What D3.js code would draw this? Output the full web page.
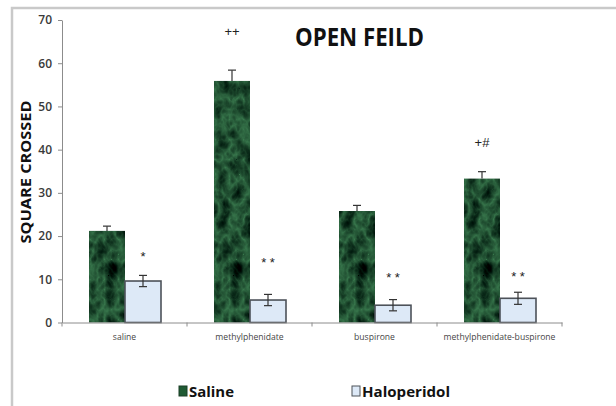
<!DOCTYPE html>
<html>
<head>
<meta charset="utf-8">
<script src="https://cdn.jsdelivr.net/npm/d3@7"></script>
<style>
  body { margin: 0; background: #fff; }
  svg { display: block; }
</style>
</head>
<body>
<svg id="chart" width="616" height="406"></svg>
<script>
// categories and series
const categories = ['saline', 'methylphenidate', 'buspirone', 'methylphenidate-buspirone'];
const series = ['Saline', 'Haloperidol'];
const salineMean = [21.2, 55.9, 25.8, 33.3];
const salineErr = [1.1, 2.5, 1.3, 1.6];
const haloMean = [9.6, 5.2, 4.0, 5.6];
const haloErr = [1.3, 1.3, 1.3, 1.4];
// significance marks: [category, series, label, level on the y scale]
const marks = [
  ['saline', 'Haloperidol', '*', 15.2],
  ['methylphenidate', 'Saline', '++', 67.4],
  ['methylphenidate', 'Haloperidol', '* *', 13.8],
  ['buspirone', 'Haloperidol', '* *', 10.4],
  ['methylphenidate-buspirone', 'Saline', '+#', 41.6],
  ['methylphenidate-buspirone', 'Haloperidol', '* *', 10.7]
];
const yTicks = [0, 10, 20, 30, 40, 50, 60, 70];

const svg = d3.select('#chart');
const plotLeft = 62, plotRight = 562, plotTop = 20, plotBottom = 322.5;

// frame around the whole chart area (runs off the right/bottom edge)
svg.append('rect').attr('x', 12).attr('y', 8).attr('width', 640).attr('height', 420)
  .attr('fill', 'none').attr('stroke', '#c9c9c9').attr('stroke-width', 2.5);

// marble look for the green bars: dark green with lighter veins
const defs = svg.append('defs');
const f = defs.append('filter').attr('id', 'marble').attr('x', 0).attr('y', 0).attr('width', 1).attr('height', 1)
  .attr('color-interpolation-filters', 'sRGB');
f.append('feTurbulence').attr('type', 'turbulence').attr('baseFrequency', '0.07 0.05')
  .attr('numOctaves', 3).attr('seed', 7).attr('result', 'noise');
f.append('feColorMatrix').attr('in', 'noise').attr('type', 'matrix')
  .attr('values', '-0.35 0 0 0 0.22  -0.6 0 0 0 0.47  -0.4 0 0 0 0.3  0 0 0 0 1').attr('result', 'tint');
f.append('feComposite').attr('in', 'tint').attr('in2', 'SourceGraphic').attr('operator', 'in');

const x = d3.scaleBand().domain(categories).range([plotLeft, plotRight]).padding(0);
const xs = d3.scaleBand().domain(series).range([27, 99]).padding(0);
const y = d3.scaleLinear().domain([0, 70]).range([plotBottom, plotTop]);

const rows = categories.map((c, i) => ({
  c,
  bars: [
    { s: 'Saline', v: salineMean[i], e: salineErr[i] },
    { s: 'Haloperidol', v: haloMean[i], e: haloErr[i] }
  ]
}));

// y axis
const yAxis = svg.append('g').attr('transform', `translate(${plotLeft},0)`)
  .call(d3.axisLeft(y).tickValues(yTicks).tickSize(4).tickSizeOuter(0).tickPadding(6));
yAxis.select('.domain').attr('stroke', '#8c8c8c');
yAxis.selectAll('.tick line').attr('stroke', '#8c8c8c');
yAxis.selectAll('.tick text').attr('font-family', 'Open Sans, sans-serif').attr('font-size', 12)
  .attr('font-weight', 600).attr('fill', '#3a3a3a');

// bars
const g = svg.append('g').selectAll('g').data(rows).join('g')
  .attr('transform', d => `translate(${x(d.c)},0)`);

g.selectAll('rect').data(d => d.bars).join('rect')
  .attr('x', d => xs(d.s))
  .attr('y', d => y(d.v))
  .attr('width', xs.bandwidth())
  .attr('height', d => y(0) - y(d.v))
  .attr('fill', d => d.s === 'Saline' ? '#1f5a33' : '#dde9f7')
  .attr('filter', d => d.s === 'Saline' ? 'url(#marble)' : null)
  .attr('stroke', d => d.s === 'Saline' ? null : '#4d5259')
  .attr('stroke-width', 1.6);

// error bars
const eb = g.selectAll('g.err').data(d => d.bars).join('g').attr('class', 'err')
  .attr('stroke', '#333').attr('stroke-width', 1.2);
eb.append('line')
  .attr('x1', d => xs(d.s) + xs.bandwidth() / 2).attr('x2', d => xs(d.s) + xs.bandwidth() / 2)
  .attr('y1', d => y(d.v + d.e)).attr('y2', d => y(d.s === 'Saline' ? d.v : d.v - d.e));
eb.append('line')
  .attr('x1', d => xs(d.s) + xs.bandwidth() / 2 - 4).attr('x2', d => xs(d.s) + xs.bandwidth() / 2 + 4)
  .attr('y1', d => y(d.v + d.e)).attr('y2', d => y(d.v + d.e));
eb.filter(d => d.s !== 'Saline').append('line')
  .attr('x1', d => xs(d.s) + xs.bandwidth() / 2 - 4).attr('x2', d => xs(d.s) + xs.bandwidth() / 2 + 4)
  .attr('y1', d => y(d.v - d.e)).attr('y2', d => y(d.v - d.e));

// x axis
const xAxis = svg.append('g').attr('transform', `translate(0,${plotBottom})`)
  .call(d3.axisBottom(x).tickSize(0).tickPadding(11));
xAxis.select('.domain').attr('stroke', '#8c8c8c');
xAxis.selectAll('.tick text').attr('font-family', 'Open Sans, sans-serif').attr('font-size', 8.6)
  .attr('fill', '#454545');
xAxis.selectAll('line.sep').data(d3.range(categories.length + 1)).join('line').attr('class', 'sep')
  .attr('x1', i => plotLeft + i * x.step()).attr('x2', i => plotLeft + i * x.step())
  .attr('y1', 0).attr('y2', 4).attr('stroke', '#8c8c8c');

// significance marks
svg.append('g').selectAll('text').data(marks).join('text')
  .attr('x', d => x(d[0]) + xs(d[1]) + xs.bandwidth() / 2)
  .attr('y', d => y(d[3]))
  .attr('text-anchor', 'middle')
  .attr('dominant-baseline', 'central')
  .attr('font-family', 'Liberation Sans, sans-serif').attr('font-size', 13).attr('fill', '#222')
  .text(d => d[2]);

// title
svg.append('text').attr('x', 295).attr('y', 46)
  .attr('font-family', 'Open Sans, sans-serif').attr('font-weight', 700).attr('font-size', 25)
  .attr('textLength', 129).attr('lengthAdjust', 'spacingAndGlyphs').attr('fill', '#111')
  .text('OPEN FEILD');

// y axis label
svg.append('text').attr('transform', 'translate(31,172) rotate(-90)')
  .attr('text-anchor', 'middle')
  .attr('font-family', 'Open Sans, sans-serif').attr('font-weight', 700).attr('font-size', 15)
  .attr('textLength', 143).attr('lengthAdjust', 'spacingAndGlyphs').attr('fill', '#111')
  .text('SQUARE CROSSED');

// legend
const legendX = [179, 352];
const legendW = [45, 88];
const lg = svg.append('g').selectAll('g').data(series).join('g')
  .attr('transform', (d, i) => `translate(${legendX[i]},386)`);
lg.append('rect').attr('width', 8).attr('height', 10)
  .attr('fill', d => d === 'Saline' ? '#1f5a33' : '#dde9f7')
  .attr('stroke', d => d === 'Saline' ? '#1b3f26' : '#4d5259').attr('stroke-width', 1);
lg.append('text').attr('x', 10).attr('y', 10.5)
  .attr('font-family', 'Open Sans, sans-serif').attr('font-weight', 700).attr('font-size', 15)
  .attr('textLength', (d, i) => legendW[i]).attr('lengthAdjust', 'spacingAndGlyphs').attr('fill', '#111')
  .text(d => d);
</script>
</body>
</html>
